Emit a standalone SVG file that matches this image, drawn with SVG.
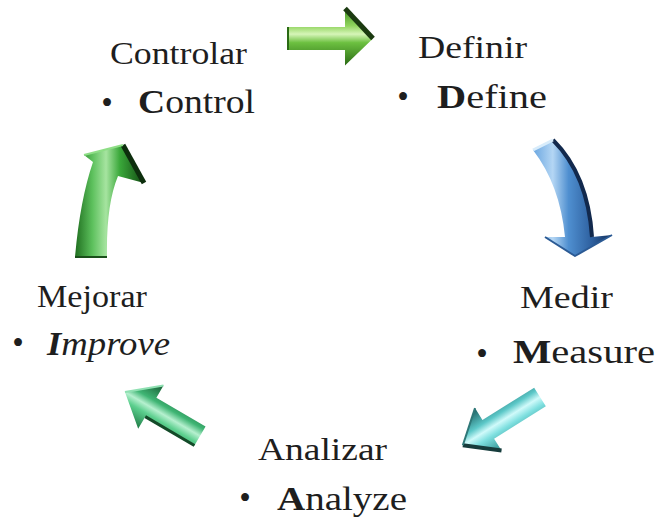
<svg xmlns="http://www.w3.org/2000/svg" width="659" height="521" viewBox="0 0 659 521">
  <style>
    .lbl { font-family: "Liberation Serif", "Times New Roman", serif; fill: #1e1e1e; }
    .t1 { font-size: 31px; }
    .t2 { font-size: 33px; }
    .b { font-weight: bold; }
    .bi { font-weight: bold; font-style: italic; }
    .i { font-style: italic; }
    .edge { fill: none; stroke-linejoin: round; }
  </style>
  <defs>
    <!-- straight arrows: gradient runs across the shaft (local y) -->
    <linearGradient id="gTop" x1="0" y1="0" x2="0" y2="1">
      <stop offset="0" stop-color="#3f8f22"/>
      <stop offset="0.3" stop-color="#8fd35c"/>
      <stop offset="0.45" stop-color="#d6f5b8"/>
      <stop offset="0.6" stop-color="#6cc040"/>
      <stop offset="1" stop-color="#2a6a14"/>
    </linearGradient>
    <linearGradient id="gCyan" x1="0" y1="0" x2="0" y2="1">
      <stop offset="0" stop-color="#2a8c8c"/>
      <stop offset="0.35" stop-color="#7fe0e0"/>
      <stop offset="0.5" stop-color="#d0fafa"/>
      <stop offset="0.65" stop-color="#5cc8c8"/>
      <stop offset="1" stop-color="#1c5e60"/>
    </linearGradient>
    <linearGradient id="gTeal" x1="0" y1="0" x2="0" y2="1">
      <stop offset="0" stop-color="#1f7a45"/>
      <stop offset="0.35" stop-color="#5ccf8e"/>
      <stop offset="0.5" stop-color="#b6f0cf"/>
      <stop offset="0.65" stop-color="#3fb574"/>
      <stop offset="1" stop-color="#175c33"/>
    </linearGradient>
    <!-- curved arrows: gradient runs left to right -->
    <linearGradient id="gBlue" x1="0" y1="0" x2="1" y2="0">
      <stop offset="0" stop-color="#6aa6e0"/>
      <stop offset="0.25" stop-color="#b4d6f4"/>
      <stop offset="0.45" stop-color="#4f8fd0"/>
      <stop offset="0.75" stop-color="#2d5f9e"/>
      <stop offset="1" stop-color="#14305a"/>
    </linearGradient>
    <linearGradient id="gGreen" x1="0" y1="0" x2="1" y2="0">
      <stop offset="0" stop-color="#1f6e1f"/>
      <stop offset="0.25" stop-color="#5cc05c"/>
      <stop offset="0.45" stop-color="#a6e4a0"/>
      <stop offset="0.65" stop-color="#3aa83a"/>
      <stop offset="1" stop-color="#124a12"/>
    </linearGradient>
  </defs>

  <g id="connectors">
    <!-- Controlar -> Definir -->
    <g id="arrow-top" transform="translate(288,38.5)">
      <path d="M0,-11.5 L57,-11.5 L57,-30 L85,0 L57,27 L57,11.5 L0,11.5 Z" fill="url(#gTop)"/>
      <path d="M57,-30 L85,0" class="edge" stroke="#1b3a10" stroke-width="5"/>
      <path d="M0,-11.5 L0,11.5" class="edge" stroke="#2a6a14" stroke-width="2"/>
    </g>
    <!-- Definir -> Medir -->
    <g id="arrow-right">
      <path d="M553,140 Q588,175 592,237 L612,235 L575,256 L545,237 L565,237 Q560,185 533,150 Z" fill="url(#gBlue)"/>
      <path d="M553,140 Q588,175 592,237" class="edge" stroke="#12294d" stroke-width="4"/>
      <path d="M533,150 L553,140" class="edge" stroke="#d8ecfb" stroke-width="3"/>
      <path d="M545,237 L575,256 L612,235" class="edge" stroke="#2b5a94" stroke-width="2"/>
    </g>
    <!-- Medir -> Analizar -->
    <g id="arrow-br" transform="translate(540,397) rotate(148)">
      <path d="M0,-11 L61,-11 L61,-25 L91,0 L61,25 L61,11 L0,11 Z" fill="url(#gCyan)"/>
      <path d="M61,-25 L91,0" class="edge" stroke="#163c3c" stroke-width="4"/>
      <path d="M61,25 L91,0" class="edge" stroke="#2f7878" stroke-width="2"/>
    </g>
    <!-- Analizar -> Mejorar -->
    <g id="arrow-bl" transform="translate(200,436) rotate(210.4)">
      <path d="M0,-11 L57,-11 L57,-25 L87,0 L57,25 L57,11 L0,11 Z" fill="url(#gTeal)"/>
      <path d="M0,-11 L57,-11" class="edge" stroke="#134a28" stroke-width="3"/>
      <path d="M57,25 L87,0" class="edge" stroke="#8fe0b2" stroke-width="2"/>
    </g>
    <!-- Mejorar -> Controlar -->
    <g id="arrow-left">
      <path d="M75,257 Q80,200 93,162 L84,155 L123,145 L144,183 L118,176 Q106,205 107,257 Z" fill="url(#gGreen)"/>
      <path d="M123,145 L144,183" class="edge" stroke="#0d2e0d" stroke-width="5"/>
      <path d="M84,155 L123,145" class="edge" stroke="#8ede86" stroke-width="2"/>
      <path d="M75,257 L107,257" class="edge" stroke="#1a4f1a" stroke-width="2"/>
    </g>
  </g>

  <g id="node-controlar">
    <text class="lbl t1" x="110" y="64" textLength="137" lengthAdjust="spacingAndGlyphs">Controlar</text>
    <text class="lbl t2" x="107" y="114" text-anchor="middle">•</text>
    <text class="lbl t2" x="138" y="113" textLength="117" lengthAdjust="spacingAndGlyphs"><tspan class="b">C</tspan>ontrol</text>
  </g>
  <g id="node-definir">
    <text class="lbl t1" x="418" y="58" textLength="109" lengthAdjust="spacingAndGlyphs">Definir</text>
    <text class="lbl t2" x="403" y="108" text-anchor="middle">•</text>
    <text class="lbl t2" x="437" y="108" textLength="110" lengthAdjust="spacingAndGlyphs"><tspan class="b">D</tspan>efine</text>
  </g>
  <g id="node-medir">
    <text class="lbl t1" x="520" y="308" textLength="93" lengthAdjust="spacingAndGlyphs">Medir</text>
    <text class="lbl t2" x="482" y="365" text-anchor="middle">•</text>
    <text class="lbl t2" x="513" y="363" textLength="142" lengthAdjust="spacingAndGlyphs"><tspan class="b">M</tspan>easure</text>
  </g>
  <g id="node-analizar">
    <text class="lbl t1" x="258" y="460" textLength="129" lengthAdjust="spacingAndGlyphs">Analizar</text>
    <text class="lbl t2" x="245" y="509" text-anchor="middle">•</text>
    <text class="lbl t2" x="277" y="510" textLength="130" lengthAdjust="spacingAndGlyphs"><tspan class="b">A</tspan>nalyze</text>
  </g>
  <g id="node-mejorar">
    <text class="lbl t1" x="37" y="307" textLength="110" lengthAdjust="spacingAndGlyphs">Mejorar</text>
    <text class="lbl t2" x="18" y="354" text-anchor="middle">•</text>
    <text class="lbl t2" x="47" y="355" textLength="123" lengthAdjust="spacingAndGlyphs"><tspan class="bi">I</tspan><tspan class="i">mprove</tspan></text>
  </g>
</svg>
